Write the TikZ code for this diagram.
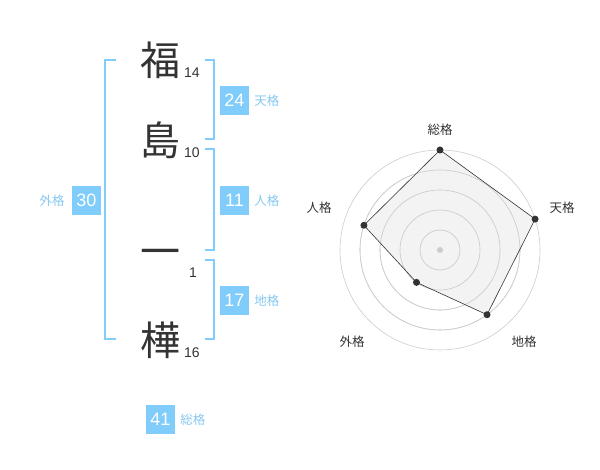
\documentclass[tikz,border=0pt]{standalone}
\usepackage{fontspec}
\setmainfont{Liberation Sans}
\newfontfamily\jpfont{Noto Sans CJK JP}
\usepackage{tikz}
\usetikzlibrary{positioning}
\definecolor{kakublue}{RGB}{128,204,250}
\definecolor{kakutext}{RGB}{134,200,240}
\definecolor{inkgray}{RGB}{51,51,51}
\definecolor{ringgray}{RGB}{204,204,204}
\definecolor{webfill}{RGB}{240,240,240}
\tikzset{
    kanji/.style={font=\jpfont\fontsize{40}{40}\selectfont, text=inkgray, inner sep=0pt},
    strokes/.style={font=\fontsize{14}{14}\selectfont, text=inkgray, inner sep=0pt},
    kakubox/.style={fill=kakublue, text=white, minimum size=29pt, inner sep=0pt, font=\fontsize{18}{18}\selectfont},
    kakuname/.style={font=\jpfont\fontsize{12.5}{12.5}\selectfont, text=kakutext, inner sep=0pt},
    axisname/.style={font=\jpfont\fontsize{12.5}{12.5}\selectfont, text=inkgray, inner sep=0pt},
    bracket/.style={draw=kakublue, line width=1.5pt},
    webdot/.style={circle, fill=inkgray, inner sep=0pt, minimum size=7pt}
}
\begin{document}
\begin{tikzpicture}[x=1pt,y=-1pt]
            \useasboundingbox (0,0) rectangle (600,470);
            % name and stroke counts
            \node[kanji] (k1) at (160,60) {福};
            \node[kanji] (k2) at (160,140) {島};
            \node[kanji] (k3) at (160,258) {一};
            \node[kanji] (k4) at (160,340) {樺};
            \node[strokes] (s1) at (192,73) {14};
            \node[strokes] (s2) at (192,153) {10};
            \node[strokes] (s3) at (193,273) {1};
            \node[strokes] (s4) at (192,353) {16};
            % brackets
            \draw[bracket] (116,60) -- (105,60) -- (105,339) -- (116,339);
            \draw[bracket] (205,60) -- (214,60) -- (214,139) -- (205,139);
            \draw[bracket] (205,149) -- (214,149) -- (214,250) -- (205,250);
            \draw[bracket] (205,260) -- (214,260) -- (214,339) -- (205,339);
            % boxes
            \node[kakubox] (ten) at (234.5,100.5) {24};
            \node[kakuname, right=5pt of ten] (tenname) {天格};
            \node[kakubox] (jin) at (234.5,200.5) {11};
            \node[kakuname, right=5pt of jin] (jinname) {人格};
            \node[kakubox] (chi) at (234.5,300.5) {17};
            \node[kakuname, right=5pt of chi] (chiname) {地格};
            \node[kakubox] (gai) at (86.5,200.5) {30};
            \node[kakuname, left=7pt of gai] (gainame) {外格};
            \node[kakubox] (sou) at (160.5,419.5) {41};
            \node[kakuname, right=5pt of sou] (souname) {総格};
            % radar
            \begin{scope}[shift={(440,250)}, y=1pt]
                \foreach \r in {20,40,60,80,100}
                    \draw[ringgray, line width=0.6pt] (0,0) circle (\r);
                \coordinate (vsou) at (90:100);
                \coordinate (vten) at (18:100);
                \coordinate (vchi) at (-54:80);
                \coordinate (vgai) at (-126:40);
                \coordinate (vjin) at (162:80);
                \fill[webfill, opacity=0.8] (vsou) -- (vten) -- (vchi) -- (vgai) -- (vjin) -- cycle;
                \foreach \r in {20,40,60,80}
                    \draw[ringgray, line width=0.6pt] (0,0) circle (\r);
                \draw[inkgray, line width=0.6pt] (vsou) -- (vten) -- (vchi) -- (vgai) -- (vjin) -- cycle;
                \fill[ringgray] (0,0) circle (3);
                \foreach \v in {vsou,vten,vchi,vgai,vjin}
                    \node[webdot] at (\v) {};
                \node[axisname] (asou) at (0,120) {総格};
                \node[axisname] (aten) at (122,42) {天格};
                \node[axisname] (achi) at (84,-92) {地格};
                \node[axisname] (agai) at (-88,-92) {外格};
                \node[axisname] (ajin) at (-121,42) {人格};
            \end{scope}
        \end{tikzpicture}
\end{document}
